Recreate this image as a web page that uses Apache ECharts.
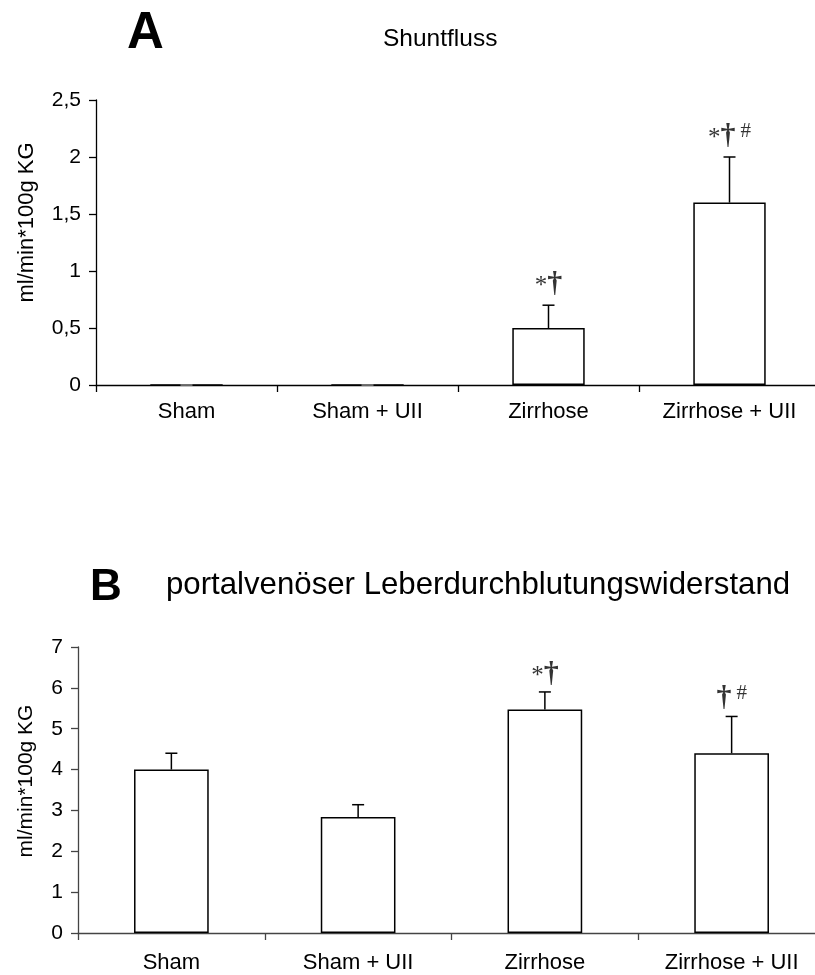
<!DOCTYPE html>
<html>
<head>
<meta charset="utf-8">
<script src="https://cdn.jsdelivr.net/npm/echarts@6/dist/echarts.min.js"></script>
<style>
  html, body { margin: 0; padding: 0; background: #fff; }
  #main { width: 815px; height: 975px; }
</style>
</head>
<body>
<div id="main"></div>
<script>
  // Gruppen
  const categories = ['Sham', 'Sham + UII', 'Zirrhose', 'Zirrhose + UII']
  // A: Shuntfluss
  const shuntMean = [0, 0, 0.5, 1.6]
  const shuntErr = [0, 0, 0.2, 0.4]
  const shuntMarks = ['', '', '*†', '*†#']
  // B: portalvenöser Widerstand
  const resistMean = [4.0, 2.84, 5.47, 4.4]
  const resistErr = [0.4, 0.3, 0.43, 0.9]
  const resistMarks = ['', '', '*†', '†#']

  const sans = 'Liberation Sans'
  const serif = 'Liberation Serif'

  const commaLabel = v => String(v).replace('.', ',')

  // Fehlerbalken nach oben mit Kappe
  function errorBar(params, api) {
    const i = api.value(0)
    const lo = api.coord([i, api.value(1)])
    const hi = api.coord([i, api.value(2)])
    const half = 6
    const col = api.value(2) === api.value(1) ? '#888' : '#000'
    return {
      type: 'group',
      children: [
        {type: 'line', shape: {x1: lo[0], y1: lo[1], x2: hi[0], y2: hi[1]}, style: {stroke: col, lineWidth: 1.5}},
        {type: 'line', shape: {x1: hi[0] - half, y1: hi[1], x2: hi[0] + half, y2: hi[1]}, style: {stroke: col, lineWidth: 1.5}}
      ]
    }
  }

  function errData(mean, err) {
    return mean.map((m, i) => [i, m, m + err[i]])
  }

  function markData(mean, err, marks) {
    return mean.map((m, i) => ({value: [i, m + err[i]], mark: marks[i]}))
  }

  const markRich = {
    s: {fontFamily: serif, fontSize: 25, color: '#000', verticalAlign: 'bottom'},
    d: {fontFamily: serif, fontSize: 30, color: '#000', fontWeight: 'bold'},
    h: {fontFamily: serif, fontSize: 21, color: '#000', verticalAlign: 'top', padding: [0, 0, 0, 5]}
  }

  function markFormatter(p) {
    const t = p.data.mark || ''
    return t.split('').map(c => c === '*' ? '{s|*}' : c === '†' ? '{d|†}' : '{h|#}').join('')
  }

  function yAxisCfg(gridIndex, max, interval, gap, lineColor, pad, nameSize) {
    return {
      type: 'value',
      gridIndex: gridIndex,
      min: 0,
      max: max,
      interval: interval,
      name: 'ml/min*100g KG',
      nameLocation: 'middle',
      nameGap: gap,
      nameTextStyle: {fontFamily: sans, fontSize: nameSize, color: '#000', padding: pad},
      axisLine: {show: true, lineStyle: {color: lineColor, width: 1.3}},
      axisTick: {show: true, length: 7, lineStyle: {color: lineColor, width: 1.3}},
      axisLabel: {fontFamily: sans, fontSize: 21, color: '#000', margin: 15, formatter: commaLabel},
      splitLine: {show: false}
    }
  }

  function xAxisCfg(gridIndex, lineColor, margin) {
    return {
      type: 'category',
      gridIndex: gridIndex,
      data: categories,
      axisLine: {show: true, lineStyle: {color: lineColor, width: 1.3}},
      axisTick: {show: true, length: 7, lineStyle: {color: lineColor, width: 1.3}},
      axisLabel: {fontFamily: sans, fontSize: 22, color: '#000', margin: margin}
    }
  }

  function barSeries(idx, mean) {
    return {
      type: 'bar',
      xAxisIndex: idx,
      yAxisIndex: idx,
      data: mean,
      barWidth: '40%',
      itemStyle: {color: '#fff', borderColor: '#000', borderWidth: 1.5},
      silent: true
    }
  }

  const chart = echarts.init(document.getElementById('main'), null, {renderer: 'canvas'})
  const option = {
    animation: false,
    backgroundColor: '#fff',
    title: [
      {text: 'A', left: 127, top: 8, padding: 0, textStyle: {fontFamily: sans, fontSize: 51, fontWeight: 'bold', color: '#000'}},
      {text: 'Shuntfluss', left: 383, top: 27, padding: 0, textStyle: {fontFamily: sans, fontSize: 24.5, fontWeight: 'normal', color: '#000'}},
      {text: 'B', left: 90, top: 566, padding: 0, textStyle: {fontFamily: sans, fontSize: 44, fontWeight: 'bold', color: '#000'}},
      {text: 'portalvenöser Leberdurchblutungswiderstand', left: 166, top: 570, padding: 0, textStyle: {fontFamily: sans, fontSize: 31.2, fontWeight: 'normal', color: '#000'}}
    ],
    grid: [
      {left: 96, top: 100, width: 724, height: 285, outerBoundsMode: 'none'},
      {left: 78, top: 647, width: 747, height: 286, outerBoundsMode: 'none'}
    ],
    xAxis: [xAxisCfg(0, '#000', 16), xAxisCfg(1, '#444', 19)],
    yAxis: [
      yAxisCfg(0, 2.5, 0.5, 58, '#000', [0, 0, 0, 40], 22),
      yAxisCfg(1, 7, 1, 41, '#444', [0, 0, 0, 18], 21)
    ],
    series: [
      barSeries(0, shuntMean),
      {type: 'custom', xAxisIndex: 0, yAxisIndex: 0, renderItem: errorBar, data: errData(shuntMean, shuntErr), z: 3, silent: true},
      {
        type: 'scatter', xAxisIndex: 0, yAxisIndex: 0, symbolSize: 0, data: markData(shuntMean, shuntErr, shuntMarks), z: 4,
        label: {show: true, position: 'top', distance: 6, formatter: markFormatter, rich: markRich}
      },
      barSeries(1, resistMean),
      {type: 'custom', xAxisIndex: 1, yAxisIndex: 1, renderItem: errorBar, data: errData(resistMean, resistErr), z: 3, silent: true},
      {
        type: 'scatter', xAxisIndex: 1, yAxisIndex: 1, symbolSize: 0, data: markData(resistMean, resistErr, resistMarks), z: 4,
        label: {show: true, position: 'top', distance: 3, formatter: markFormatter, rich: markRich}
      }
    ]
  }
  chart.setOption(option)
</script>
</body>
</html>
